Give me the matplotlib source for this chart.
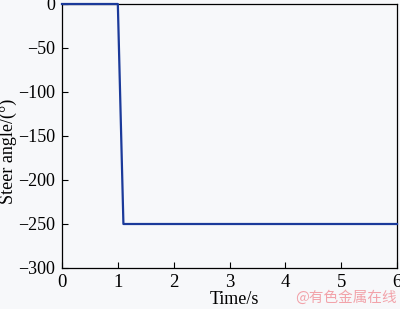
import matplotlib.pyplot as plt

time_s = [0, 1.0, 1.1, 6]
steer_deg = [0, 0, -250, -250]

plt.rcParams['font.family'] = ['Liberation Serif', 'DejaVu Serif']

fig = plt.figure(figsize=(4.0, 3.09), dpi=100)
fig.patch.set_facecolor('#f7f8fa')
ax = fig.add_axes([62 / 400, 1 - 268 / 309, (397 - 62) / 400, (268 - 4) / 309])
ax.set_facecolor('#f7f8fa')

ax.plot(time_s, steer_deg, color='#1b3a9a', linewidth=1.6, clip_on=False, zorder=5)

ax.set_xlim(0, 6)
ax.set_ylim(-300, 0)
ax.set_xticks(range(0, 7))
ax.set_yticks(range(-300, 1, 50))
ax.set_yticklabels([str(v).replace('-', '\u2212') for v in range(-300, 1, 50)])
ax.tick_params(direction='in', labelsize=13.5, length=4, width=0.8)
ax.tick_params(axis='x', pad=4)
ax.tick_params(axis='y', pad=5, labelsize=13)
for s in ax.spines.values():
    s.set_linewidth(0.9)

ax.set_xlabel('Time/s', fontsize=13, va='center')
ax.set_ylabel('Steer angle/(°)', fontsize=13, va='center')
# label positions as in the source figure (y label sits a bit low)
ax.xaxis.set_label_coords(0.516, -0.121)
ax.yaxis.set_label_coords(-0.16, 0.443)

fig.text(0.993, 0.012, '@有色金属在线', color='#f2a3aa', fontsize=10.5,
         ha='right', va='bottom', family=['Noto Sans CJK SC', 'DejaVu Sans'])

fig.savefig('out.png', dpi=100, facecolor=fig.get_facecolor())
